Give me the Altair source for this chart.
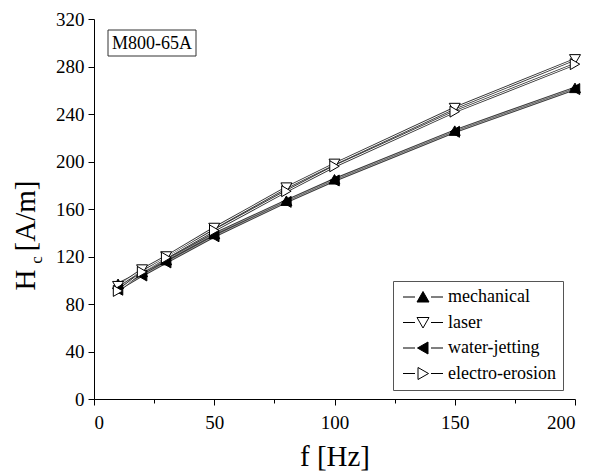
import altair as alt
import pandas as pd

freq = [10, 20, 30, 50, 80, 100, 150, 200]
series_names = ["mechanical", "laser", "water-jetting", "electro-erosion"]
mechanical = [97, 107, 117, 139, 167, 185, 226, 262]
laser = [95, 109, 120, 144, 178, 198, 245, 286]
water_jetting = [92, 104, 115, 137, 166, 184, 225, 261]
electro_erosion = [91, 107, 119, 142, 175, 196, 242, 282]

x_ticks = [0, 25, 50, 75, 100, 125, 150, 175, 200]
y_ticks = list(range(0, 321, 20))

rows = []
for name, vals in zip(series_names, [mechanical, laser, water_jetting, electro_erosion]):
    for f, v in zip(freq, vals):
        rows.append({"f": f, "H": v, "series": name, "series2": name})
df = pd.DataFrame(rows)

FONT = "Times New Roman, Liberation Serif, serif"
W, H = 481, 380

x = alt.X("f:Q", scale=alt.Scale(domain=[0, 200], nice=False),
          axis=alt.Axis(values=x_ticks, title="f [Hz]",
                        labelExpr="datum.value % 50 == 0 ? datum.label : ''",
                        tickSize={"condition": {"test": "datum.value % 50 != 0", "value": 4}, "value": 6},
                        grid=False, domainColor="black", tickColor="black",
                        labelFont=FONT, labelFontSize=19, labelColor="black", labelPadding=8,
                        titleFont=FONT, titleFontSize=29, titleFontWeight="normal",
                        titleColor="black", titlePadding=10))
y = alt.Y("H:Q", scale=alt.Scale(domain=[0, 320], nice=False),
          axis=alt.Axis(values=y_ticks, title=None,
                        labelExpr="datum.value % 40 == 0 ? datum.label : ''",
                        tickSize={"condition": {"test": "datum.value % 40 != 0", "value": 4}, "value": 6},
                        grid=False, domainColor="black", tickColor="black",
                        labelFont=FONT, labelFontSize=19, labelColor="black", labelPadding=4))

base = alt.Chart(df)

outer = base.mark_line(strokeWidth=2.6, color="#333333").encode(
    x=x, y=y, detail="series:N")
inner = base.mark_line(strokeWidth=1).encode(
    x="f:Q", y="H:Q",
    color=alt.Color("series2:N", scale=alt.Scale(domain=series_names,
                                                   range=["#999999", "white", "#999999", "white"]),
                    legend=None))

points = base.mark_point(size=120, stroke="black", strokeWidth=1, opacity=1, filled=False).encode(
    x="f:Q", y="H:Q",
    shape=alt.Shape("series2:N", scale=alt.Scale(domain=series_names,
                                                  range=["triangle-up", "triangle-down", "triangle-left", "triangle-right"]),
                    legend=None),
    fill=alt.Fill("series2:N", scale=alt.Scale(domain=series_names,
                                                range=["black", "white", "black", "white"]),
                  legend=None))

tri = {
    "up": "M0,-1.1L1.2,1L-1.2,1Z",
    "down": "M0,1.1L1.2,-1L-1.2,-1Z",
    "left": "M-1.1,0L1,-1.2L1,1.2Z",
    "right": "M1.1,0L-1,-1.2L-1,1.2Z",
}
dash = "M-4,0L-1.6,0M1.6,0L4,0"
legend_paths = [dash + tri["up"], dash + tri["down"], dash + tri["left"], dash + tri["right"]]

legend_layer = base.mark_point(size=100, strokeWidth=1, opacity=1, filled=False).encode(
    x="f:Q", y="H:Q",
    shape=alt.Shape("series:N", scale=alt.Scale(domain=series_names, range=legend_paths),
                    legend=alt.Legend(title=None, orient="none", legendX=299, legendY=262,
                                      labelFont=FONT, labelFontSize=18, labelColor="black",
                                      symbolSize=100, symbolStrokeWidth=1,
                                      symbolOffset=14, labelOffset=16, rowPadding=7.5,
                                      padding=7, strokeColor="#555555",
                                      symbolOpacity=1)),
    fill=alt.Fill("series:N", scale=alt.Scale(domain=series_names, range=["black", "white", "black", "white"])),
    stroke=alt.Stroke("series:N", scale=alt.Scale(domain=series_names, range=["black", "black", "black", "black"])),
).transform_filter("datum.f < 0")

one = pd.DataFrame({"a": [0]})
annot_rect = alt.Chart(one).mark_rect(fill="white", stroke="#333333", strokeWidth=1).encode(
    x=alt.value(14), x2=alt.value(102), y=alt.value(11), y2=alt.value(37))
annot_text = alt.Chart(one).mark_text(
    text="M800-65A", font=FONT, fontSize=18, color="black", align="center", baseline="middle").encode(
    x=alt.value(58), y=alt.value(25))

t_H = alt.Chart(one).mark_text(
    text="H", font=FONT, fontSize=29, color="black", angle=270, align="center", baseline="alphabetic").encode(
    x=alt.value(-59), y=alt.value(261))
t_c = alt.Chart(one).mark_text(
    text="c", font=FONT, fontSize=17, color="black", angle=270, align="center", baseline="alphabetic").encode(
    x=alt.value(-52), y=alt.value(241))
t_u = alt.Chart(one).mark_text(
    text="[A/m]", font=FONT, fontSize=29, color="black", angle=270, align="center", baseline="alphabetic").encode(
    x=alt.value(-59), y=alt.value(197))

chart = alt.layer(outer, inner, points, legend_layer, annot_rect, annot_text, t_H, t_c, t_u).resolve_scale(
    shape="independent", fill="independent", color="independent", stroke="independent"
).properties(width=W, height=H, background="white",
             autosize=alt.AutoSizeParams(type="none"),
             padding={"left": 86, "top": 11, "right": 12, "bottom": 75}
).configure_view(stroke=None)

chart.save("out.html", embed_options={"renderer": "svg", "actions": False})
